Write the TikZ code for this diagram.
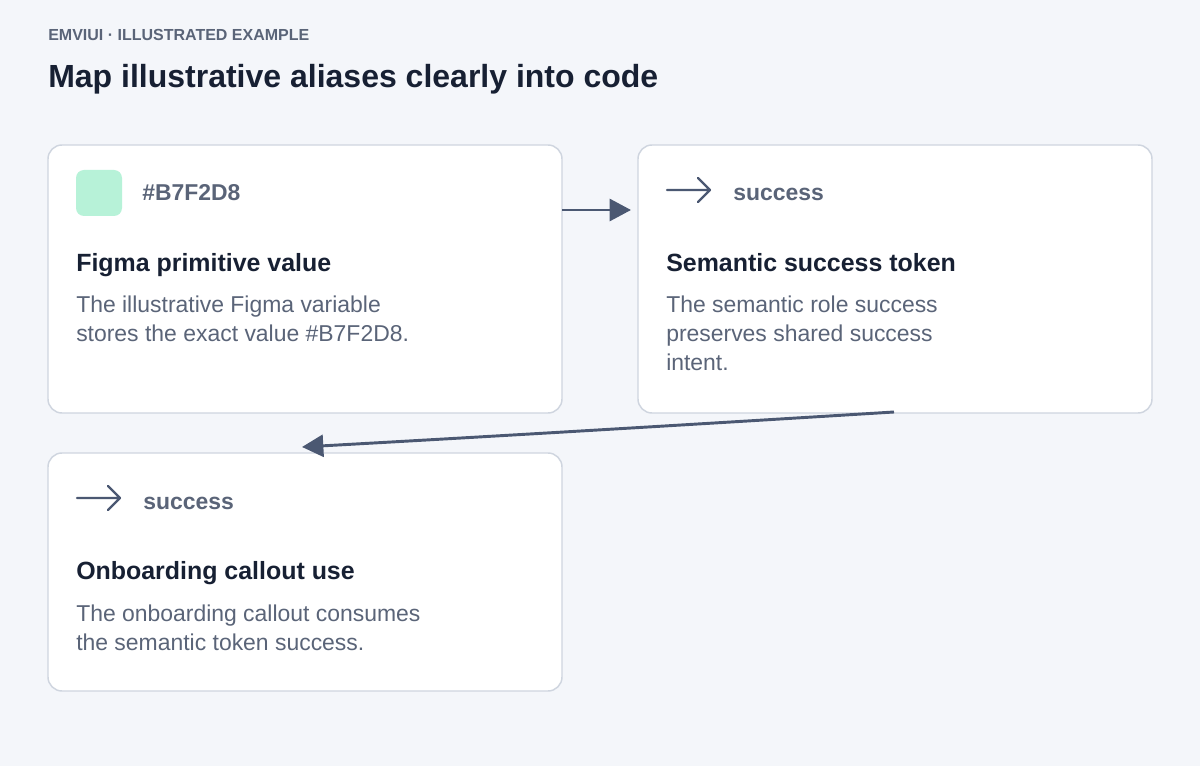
\documentclass[tikz,border=0pt]{standalone}
\usepackage{fontspec}
\setmainfont{Liberation Sans}
\usepackage{tikz}
\usepackage{xcolor}
\usetikzlibrary{arrows.meta}
\definecolor{pagebg}{HTML}{F4F6FA}
\definecolor{cardline}{HTML}{CFD5DF}
\definecolor{inkdark}{HTML}{172033}
\definecolor{inkmuted}{HTML}{5A6478}
\definecolor{linkink}{HTML}{4B5872}
\definecolor{swatch}{HTML}{B7F2D8}
\tikzset{
    card/.style = {draw=cardline, fill=white, line width=1.1pt, rounded corners=10.5pt},
    eyebrow/.style = {anchor=base west, inner sep=0pt, text=inkmuted, font=\fontsize{12pt}{14pt}\selectfont\bfseries},
    headline/.style = {anchor=base west, inner sep=0pt, text=inkdark, font=\fontsize{24pt}{28pt}\selectfont\bfseries},
    card-title/.style = {anchor=base west, inner sep=0pt, text=inkdark, font=\fontsize{18.7pt}{22pt}\selectfont\bfseries},
    card-tag/.style = {anchor=base west, inner sep=0pt, text=inkmuted, font=\fontsize{17.2pt}{20pt}\selectfont\bfseries},
    card-body/.style = {anchor=base west, inner sep=0pt, text=inkmuted, align=left, font=\fontsize{17.2pt}{21.75pt}\selectfont},
    token-icon/.style = {draw=linkink, line width=1.8pt, line cap=round, line join=round},
    link/.style = {draw=linkink, line width=2.2pt, -{Triangle[length=16pt, width=16.5pt]}},
}

\begin{document}
\begin{tikzpicture}[x=0.75pt, y=-0.75pt]
\fill[pagebg] (0,0) rectangle (1200,766);
\useasboundingbox (0,0) rectangle (1200,766);

\node[eyebrow] (kicker) at (48,41) {EMVIUI · ILLUSTRATED EXAMPLE};
\node[headline] (title) at (48,88) {Map illustrative aliases clearly into code};

% primitive card
\draw[card] (48,145) rectangle (562,413);
\fill[swatch, rounded corners=6pt] (76,170) rectangle (122,216);
\node[card-tag] (primitive-tag) at (142,201) {\#B7F2D8};
\node[card-title] (primitive-title) at (76,272) {Figma primitive value};
\node[card-body] (primitive-body) at (76,342) {The illustrative Figma variable\\stores the exact value \#B7F2D8.};
\coordinate (primitive-out) at (562,210);

% semantic card
\draw[card] (638,145) rectangle (1152,413);
\draw[token-icon] (667,190) -- (710,190) (698,178) -- (710,190) -- (698,202);
\node[card-tag] (semantic-tag) at (733,201) {success};
\node[card-title] (semantic-title) at (666,272) {Semantic success token};
\node[card-body] (semantic-body) at (666,371) {The semantic role success\\preserves shared success\\intent.};
\coordinate (semantic-in) at (631,210);
\coordinate (semantic-out) at (894,412);

% component card
\draw[card] (48,453) rectangle (562,691);
\draw[token-icon] (77,498) -- (120,498) (108,486) -- (120,498) -- (108,510);
\node[card-tag] (component-tag) at (143,509) {success};
\node[card-title] (component-title) at (76,580) {Onboarding callout use};
\node[card-body] (component-body) at (76,650) {The onboarding callout consumes\\the semantic token success.};
\coordinate (component-in) at (302,447);

\draw[link] (primitive-out) -- (semantic-in);
\draw[link] (semantic-out) .. controls (700,424) and (500,436) .. (component-in);
\end{tikzpicture}
\end{document}
